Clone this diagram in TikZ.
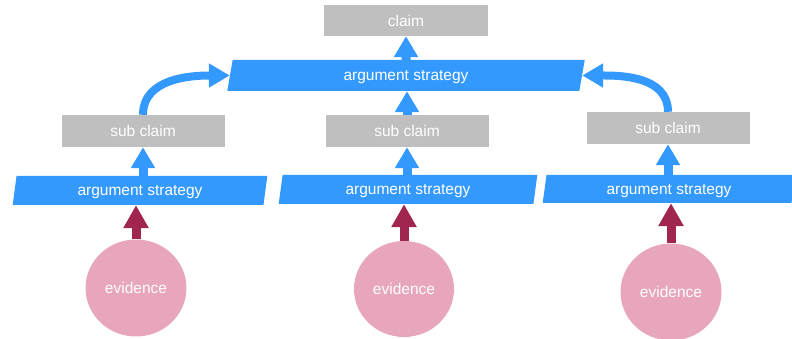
\documentclass[tikz,border=0pt]{standalone}
\usepackage{fontspec}
\setmainfont{Liberation Sans}
\usetikzlibrary{shapes.geometric,arrows.meta}
\definecolor{boxgray}{HTML}{BFBFBF}
\definecolor{stratblue}{HTML}{3399FF}
\definecolor{evpink}{HTML}{E8A6BC}
\definecolor{evred}{HTML}{A0254F}

\begin{document}
\begin{tikzpicture}[x=1pt,y=1pt,
    claimbox/.style={fill=boxgray,minimum width=164pt,minimum height=31pt,inner sep=0pt,text=white,text depth=0pt,font=\fontsize{15.5}{18}\selectfont},
    strat/.style={trapezium,trapezium left angle=79,trapezium right angle=101,trapezium stretches=true,fill=stratblue,minimum height=29pt,inner sep=0pt,text=white,text depth=0pt,font=\fontsize{15.5}{18}\selectfont},
    evid/.style={ellipse,fill=evpink,minimum width=101pt,minimum height=97pt,inner sep=0pt,text=white,text depth=0pt,font=\fontsize{15.5}{18}\selectfont},
    support/.style={-{Triangle[width=23pt,length=21pt]},line width=9pt,stratblue},
    backing/.style={-{Triangle[width=24pt,length=23pt]},line width=9pt,evred}]
    \useasboundingbox (0,0) rectangle (792,339);
    %claims
    \node [claimbox] (claim) at (406,318.5) {claim};
    \node [strat,minimum width=358pt,minimum height=31pt] (top) at (406,263.5) {argument strategy};
    \node [claimbox,minimum width=163pt,minimum height=32pt] (sc1) at (143,208) {sub claim};
    \node [claimbox,minimum width=163pt,minimum height=32pt] (sc2) at (407,208) {sub claim};
    \node [claimbox,minimum width=163pt,minimum height=32pt] (sc3) at (668,211) {sub claim};
    %strategies
    \node [strat,minimum width=255pt] (st1) at (140,148.5) {argument strategy};
    \node [strat,minimum width=259pt] (st2) at (408,149.5) {argument strategy};
    \node [strat,minimum width=253pt,minimum height=28pt] (st3) at (669,150) {argument strategy};
    %evidence
    \node [evid] (ev1) at (136,51) {evidence};
    \node [evid,minimum width=100pt,minimum height=96pt] (ev2) at (404,50) {evidence};
    \node [evid] (ev3) at (671,47) {evidence};
    %arrows
    \draw [support] (top.north) -- (claim.south);
    \draw [support] (sc2.north) -- (sc2.north |- top.south);
    \draw [support,line width=8pt] (sc1.north) to[out=90,in=180] (top.west);
    \draw [support,line width=8pt] (sc3.north) to[out=90,in=0] (top.east);
    \draw [support] (sc1.south |- st1.north) -- (sc1.south);
    \draw [support] (sc2.south |- st2.north) -- (sc2.south);
    \draw [support] (sc3.south |- st3.north) -- (sc3.south);
    \draw [backing] (ev1.north) -- (ev1.north |- st1.south);
    \draw [backing] (ev2.north) -- (ev2.north |- st2.south);
    \draw [backing] (ev3.north) -- (ev3.north |- st3.south);
  \end{tikzpicture}
\end{document}
